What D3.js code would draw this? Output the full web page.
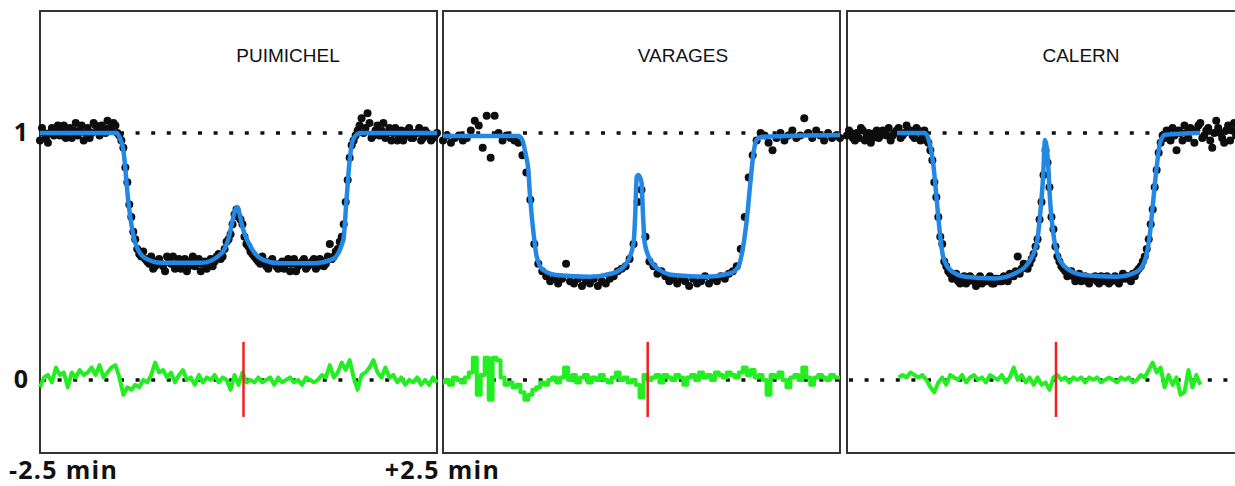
<!DOCTYPE html>
<html>
<head>
<meta charset="utf-8">
<script src="https://cdn.jsdelivr.net/npm/d3@7"></script>
<style>
  body { margin: 0; background: #fff; }
</style>
</head>
<body>
<div id="chart"></div>
<script>
// Data: normalized flux vs time (min) from -2.5 min, regular cadence per station
const stations = ["PUIMICHEL", "VARAGES", "CALERN"];
const sampleStart = -2.5;
const cadence = [0.025, 0.05, 0.025];     // min between points
const residStep = 0.05;

const puimichelFlux = [
  0.97, 1.02, 1.00, 0.98, 0.96, 1.00, 1.02, 0.99, 1.01, 1.03, 0.99, 1.01, 1.03, 0.98, 1.00, 1.02, 0.98, 1.01, 1.04, 0.99,
  1.01, 1.03, 0.97, 1.00, 1.02, 0.98, 1.00, 1.04, 1.03, 1.01, 0.99, 1.03, 1.02, 1.00, 1.05, 1.02, 1.01, 1.04, 1.03, 1.00,
  0.99, 0.97, 0.94, 0.86, 0.80, 0.71, 0.66, 0.60, 0.57, 0.53, 0.51, 0.50, 0.52, 0.49, 0.48, 0.47, 0.50, 0.45, 0.46, 0.48,
  0.49, 0.47, 0.46, 0.44, 0.50, 0.48, 0.47, 0.50, 0.45, 0.47, 0.49, 0.45, 0.47, 0.49, 0.44, 0.46, 0.48, 0.50, 0.46, 0.47,
  0.49, 0.44, 0.47, 0.48, 0.45, 0.47, 0.49, 0.46, 0.48, 0.50, 0.51, 0.49, 0.50, 0.53, 0.56, 0.57, 0.59, 0.63, 0.67, 0.69,
  0.66, 0.65, 0.63, 0.58, 0.55, 0.54, 0.52, 0.51, 0.50, 0.49, 0.48, 0.47, 0.50, 0.48, 0.46, 0.45, 0.48, 0.49, 0.47, 0.46,
  0.45, 0.47, 0.48, 0.45, 0.47, 0.49, 0.44, 0.47, 0.49, 0.44, 0.46, 0.47, 0.48, 0.49, 0.45, 0.46, 0.47, 0.48, 0.49, 0.45,
  0.46, 0.49, 0.48, 0.46, 0.47, 0.50, 0.55, 0.49, 0.50, 0.52, 0.53, 0.56, 0.58, 0.63, 0.72, 0.81, 0.90, 0.95, 0.97, 0.99,
  1.01, 1.03, 1.06, 1.00, 1.02, 1.08, 1.04, 0.98, 0.99, 1.01, 1.03, 0.99, 1.01, 1.04, 0.98, 1.00, 1.02, 0.97, 1.00, 1.02,
  0.97, 0.99, 1.01, 0.97, 0.99, 1.01, 1.02, 0.98, 0.98, 1.00, 1.00, 1.02, 0.97, 0.98, 1.01, 1.00, 0.99, 0.97, 0.98, 0.99,
  1.00
];
const varagesFlux = [
  0.97, 0.99, 0.96, 0.98, 0.99, 0.97, 0.98, 1.01, 1.05, 1.03,
  0.94, 1.07, 0.90, 1.07, 1.00, 0.97, 0.99, 0.98, 0.97, 0.96,
  0.91, 0.84, 0.73, 0.55, 0.47, 0.44, 0.42, 0.40, 0.41, 0.39,
  0.41, 0.47, 0.40, 0.39, 0.41, 0.38, 0.40, 0.39, 0.41, 0.38,
  0.40, 0.39, 0.41, 0.42, 0.44, 0.45, 0.46, 0.49, 0.55, 0.72,
  0.77, 0.58, 0.48, 0.46, 0.43, 0.44, 0.42, 0.40, 0.41, 0.39,
  0.41, 0.40, 0.38, 0.41, 0.39, 0.40, 0.42, 0.39, 0.41, 0.40,
  0.42, 0.41, 0.43, 0.44, 0.46, 0.53, 0.66, 0.82, 0.91, 0.97,
  1.00, 0.99, 0.96, 0.93, 0.98, 1.00, 0.97, 0.99, 1.01, 0.98,
  0.99, 1.06, 1.00, 0.98, 1.01, 0.99, 0.97, 1.00, 0.98, 0.99, 0.98
];
const calernFlux = [
  0.99, 1.01, 1.00, 0.98, 0.97, 1.00, 0.98, 1.02, 1.01, 0.97, 0.99, 1.00, 0.96, 0.98, 1.00, 1.01, 0.98, 0.99, 1.01, 1.00,
  0.99, 1.02, 0.97, 0.99, 1.00, 1.01, 1.02, 0.98, 0.99, 1.00, 1.03, 1.01, 1.01, 0.99, 0.98, 1.02, 1.01, 0.97, 0.99, 1.01,
  0.97, 0.96, 0.93, 0.89, 0.80, 0.74, 0.66, 0.58, 0.55, 0.48, 0.46, 0.44, 0.43, 0.41, 0.42, 0.43, 0.40, 0.39, 0.41, 0.42,
  0.39, 0.40, 0.42, 0.41, 0.40, 0.38, 0.41, 0.42, 0.39, 0.40, 0.40, 0.41, 0.42, 0.39, 0.39, 0.41, 0.41, 0.40, 0.40, 0.42,
  0.41, 0.40, 0.43, 0.42, 0.42, 0.44, 0.50, 0.43, 0.45, 0.47, 0.46, 0.45, 0.47, 0.49, 0.51, 0.54, 0.57, 0.65, 0.72, 0.83,
  0.93, 0.88, 0.78, 0.66, 0.61, 0.54, 0.50, 0.48, 0.46, 0.45, 0.44, 0.42, 0.43, 0.44, 0.42, 0.40, 0.41, 0.43, 0.40, 0.41,
  0.42, 0.40, 0.39, 0.41, 0.41, 0.42, 0.40, 0.39, 0.42, 0.41, 0.40, 0.42, 0.39, 0.40, 0.41, 0.42, 0.40, 0.39, 0.41, 0.43,
  0.41, 0.42, 0.42, 0.40, 0.43, 0.42, 0.44, 0.45, 0.46, 0.48, 0.50, 0.53, 0.57, 0.63, 0.69, 0.78, 0.85, 0.92, 0.96, 0.99,
  0.98, 1.01, 0.99, 0.97, 1.02, 0.99, 0.93, 1.01, 1.00, 0.97, 1.03, 1.00, 0.98, 1.02, 1.01, 0.96, 1.01, 1.03, 1.04, 0.98,
  0.99, 1.01, 1.02, 0.97, 0.94, 1.00, 1.05, 1.02, 1.00, 0.98, 0.96, 1.01, 1.03, 0.97, 1.01, 1.04, 0.99, 1.00, 1.02, 0.98,
  1.00
];

// Fitted model (time, flux)
const puimichelModelT = [-2.5, -1.53, -1.51, -1.45, -1.39, -1.30, -1.18, -0.97, -0.46, -0.21, -0.13, -0.04, -0.02, 0.06, 0.19, 0.31, 0.52, 0.94, 1.19, 1.32, 1.36, 1.40, 1.45, 1.53, 2.5];
const puimichelModelF = [1.0, 1.0, 0.99, 0.93, 0.73, 0.555, 0.494, 0.474, 0.474, 0.514, 0.567, 0.688, 0.70, 0.607, 0.52, 0.486, 0.472, 0.472, 0.49, 0.567, 0.729, 0.89, 0.978, 1.0, 1.0];
const varagesModelT = [-2.5, -1.55, -1.50, -1.45, -1.43, -1.40, -1.36, -1.32, -1.24, -1.07, -0.65, -0.36, -0.19, -0.10, -0.08, -0.06, -0.04, 0.00, 0.02, 0.04, 0.11, 0.23, 0.40, 0.82, 1.12, 1.22, 1.28, 1.33, 1.37, 1.41, 1.45, 1.53, 2.5];
const varagesModelF = [0.988, 0.988, 0.97, 0.90, 0.864, 0.729, 0.594, 0.50, 0.445, 0.425, 0.418, 0.432, 0.472, 0.553, 0.661, 0.823, 0.83, 0.80, 0.661, 0.555, 0.486, 0.445, 0.425, 0.418, 0.432, 0.459, 0.54, 0.661, 0.796, 0.917, 0.972, 0.985, 0.992];
const calernModelT = [-1.87, -1.52, -1.46, -1.41, -1.37, -1.33, -1.29, -1.20, -1.01, -0.64, -0.38, -0.22, -0.11, -0.07, -0.03, -0.006, 0.035, 0.057, 0.098, 0.161, 0.267, 0.476, 0.897, 1.149, 1.254, 1.316, 1.358, 1.401, 1.443, 1.506, 1.946];
const calernModelF = [1.0, 1.0, 0.96, 0.864, 0.729, 0.594, 0.50, 0.445, 0.418, 0.411, 0.432, 0.472, 0.553, 0.661, 0.823, 0.972, 0.864, 0.729, 0.594, 0.50, 0.452, 0.425, 0.418, 0.438, 0.486, 0.594, 0.729, 0.864, 0.96, 0.993, 1.0];

// Residuals (data - model), binned every 0.05 min
const puimichelResid = [
  -0.03, 0.01, 0.02, -0.01, 0.05, 0.02, 0.03, -0.03, 0.03, 0.01,
  0.04, 0.02, 0.03, 0.05, 0.02, 0.06, 0.01, 0.03, 0.05, 0.06,
  0.01, -0.06, -0.03, -0.04, -0.02, -0.03, 0.00, -0.01, 0.02, 0.07,
  0.03, 0.04, 0.01, 0.03, -0.01, 0.02, 0.04, 0.00, 0.01, -0.02,
  0.02, -0.01, 0.01, 0.00, 0.02, -0.01, 0.01, 0.00, -0.04, 0.02,
  -0.02, 0.03, -0.01, 0.00, -0.01, 0.01, -0.01, 0.00, 0.01, -0.02,
  0.01, -0.01, 0.00, 0.01, -0.01, 0.00, -0.02, 0.01, 0.00, -0.01,
  0.00, 0.02, 0.01, 0.06, 0.01, 0.03, 0.07, 0.04, 0.08, 0.01,
  -0.04, 0.02, 0.03, 0.05, 0.08, 0.03, 0.01, 0.05, 0.01, 0.02,
  -0.01, 0.01, -0.02, 0.00, -0.01, 0.01, -0.02, 0.00, -0.02, 0.01, -0.01
];
const varagesResid = [
  -0.01, 0.00, -0.02, 0.01, 0.00, -0.01, 0.01, 0.03, 0.09, -0.06,
  0.02, 0.09, -0.08, 0.09, 0.08, 0.01, -0.02, -0.01, -0.03, -0.02,
  -0.05, -0.08, -0.06, -0.04, -0.03, -0.01, -0.02, 0.00, 0.01, -0.01,
  0.01, 0.05, 0.00, 0.02, -0.01, 0.01, 0.02, -0.01, 0.01, 0.00,
  0.02, 0.00, -0.01, 0.01, 0.03, 0.00, 0.01, -0.01, 0.00, -0.02,
  -0.07, 0.02, 0.00, 0.01, 0.02, -0.01, 0.02, 0.01, 0.00, 0.02,
  0.01, -0.02, 0.01, 0.02, 0.00, 0.03, 0.01, 0.02, 0.00, 0.03,
  0.02, 0.01, 0.03, 0.02, 0.01, 0.03, 0.05, 0.02, 0.04, 0.01,
  0.02, 0.00, -0.06, 0.02, 0.01, 0.03, 0.00, -0.03, 0.01, 0.02,
  0.00, 0.05, 0.01, -0.02, 0.01, 0.02, 0.01, 0.00, 0.02, 0.01, 0.01
];
const calernResidStart = -1.85;
const calernResid = [
  0.01, 0.02, 0.01, 0.03, 0.02, 0.01, 0.02, 0.00, -0.03, -0.05,
  -0.01, 0.01, -0.02, 0.02, 0.01, 0.00, 0.02, -0.01, 0.01, 0.02,
  0.00, 0.01, -0.01, 0.02, 0.01, 0.00, 0.02, -0.01, 0.01, 0.05,
  0.00, 0.02, -0.01, 0.01, -0.02, 0.01, -0.02, -0.01, -0.04, 0.01,
  0.02, 0.00, 0.01, -0.01, 0.01, 0.00, 0.01, -0.01, 0.01, 0.00,
  0.01, -0.01, 0.00, 0.01, 0.00, -0.01, 0.01, 0.00, 0.01, -0.01,
  0.00, 0.02, 0.01, 0.04, 0.07, 0.03, 0.05, -0.03, 0.02, -0.02,
  0.01, -0.06, -0.05, 0.04, -0.03, 0.02, -0.02
];

const midTimes = [0.063, 0.078, 0.132];   // red marker, min
const refLevels = [0, 1];
const xTickValues = [-2.5, 2.5];
const xTickLabels = ["-2.5 min", "+2.5 min"];

// Layout
const W = 1235, H = 486;
const panelLeft = [40, 443, 847];
const panelWidth = 397;
const plotTop = 11, plotBottom = 453;
const titleOffset = [248, 240, 234];

const series = [
  { flux: puimichelFlux, mT: puimichelModelT, mF: puimichelModelF, res: puimichelResid, resStart: sampleStart, step: false },
  { flux: varagesFlux, mT: varagesModelT, mF: varagesModelF, res: varagesResid, resStart: sampleStart, step: true },
  { flux: calernFlux, mT: calernModelT, mF: calernModelF, res: calernResid, resStart: calernResidStart, step: false }
];

const svg = d3.select("#chart").append("svg")
  .attr("width", W)
  .attr("height", H);

const y = d3.scaleLinear().domain([-0.296, 1.494]).range([plotBottom, plotTop]);

const line = d3.line().x(d => d[0]).y(d => d[1]);

series.forEach((s, k) => {
  const x = d3.scaleLinear().domain([-2.5, 2.5]).range([panelLeft[k], panelLeft[k] + panelWidth]);
  const g = svg.append("g");

  // frame
  g.append("rect")
    .attr("x", x(-2.5)).attr("y", plotTop)
    .attr("width", panelWidth).attr("height", plotBottom - plotTop)
    .attr("fill", "none").attr("stroke", "#333").attr("stroke-width", 2);

  // dotted reference levels
  g.selectAll(".ref").data(refLevels).enter().append("line")
    .attr("x1", x(-2.5) + 2).attr("x2", x(2.5))
    .attr("y1", d => y(d)).attr("y2", d => y(d))
    .attr("stroke", "#111").attr("stroke-width", 3.5)
    .attr("stroke-dasharray", "4 11.6");

  // station name
  g.append("text")
    .attr("x", panelLeft[k] + titleOffset[k]).attr("y", 62)
    .attr("text-anchor", "middle")
    .attr("font-family", "'Liberation Sans', Arial, sans-serif")
    .attr("font-size", 19)
    .attr("fill", "#111")
    .text(stations[k]);

  // observed points
  g.selectAll(".pt").data(s.flux).enter().append("circle")
    .attr("cx", (d, i) => x(sampleStart + i * cadence[k]))
    .attr("cy", d => y(d))
    .attr("r", 4)
    .attr("fill", "#0d0d0d");

  // model
  g.append("path")
    .datum(s.mT.map((t, i) => [x(t), y(s.mF[i])]))
    .attr("d", line.curve(d3.curveMonotoneX))
    .attr("fill", "none").attr("stroke", "#2387e6").attr("stroke-width", 4.5)
    .attr("stroke-linejoin", "round");

  // residuals
  g.append("path")
    .datum(s.res.map((r, i) => [x(s.resStart + i * residStep), y(r)]))
    .attr("d", line.curve(s.step ? d3.curveStep : d3.curveLinear))
    .attr("fill", "none").attr("stroke", "#22ee22").attr("stroke-width", 4)
    .attr("stroke-linejoin", "round");

  // mid-event marker
  g.append("line")
    .attr("x1", x(midTimes[k])).attr("x2", x(midTimes[k]))
    .attr("y1", y(0.154)).attr("y2", y(-0.15))
    .attr("stroke", "#ee2020").attr("stroke-width", 2.5);

  if (k === 0) {
    // y labels
    const ay = g.append("g")
      .attr("transform", `translate(${x(-2.5) - 12},0)`)
      .call(d3.axisLeft(y).tickValues(refLevels).tickSize(0).tickPadding(0).tickFormat(d3.format("d")));
    ay.select(".domain").remove();
    ay.selectAll("text")
      .attr("font-family", "'Open Sans', sans-serif")
      .attr("font-size", 25).attr("font-weight", 700).attr("fill", "#111");

    // x labels
    const ax = g.append("g")
      .attr("transform", `translate(0,${plotBottom})`)
      .call(d3.axisBottom(x).tickValues(xTickValues).tickSize(0).tickPadding(0)
        .tickFormat((d, i) => xTickLabels[i]));
    ax.select(".domain").remove();
    ax.selectAll("text")
      .attr("font-family", "'Open Sans', sans-serif")
      .attr("font-size", 25).attr("font-weight", 700).attr("fill", "#111")
      .attr("letter-spacing", 1.3)
      .attr("dy", null).attr("y", 26)
      .attr("dx", (d, i) => i === 0 ? 23 : 5);
  }
});
</script>
</body>
</html>
